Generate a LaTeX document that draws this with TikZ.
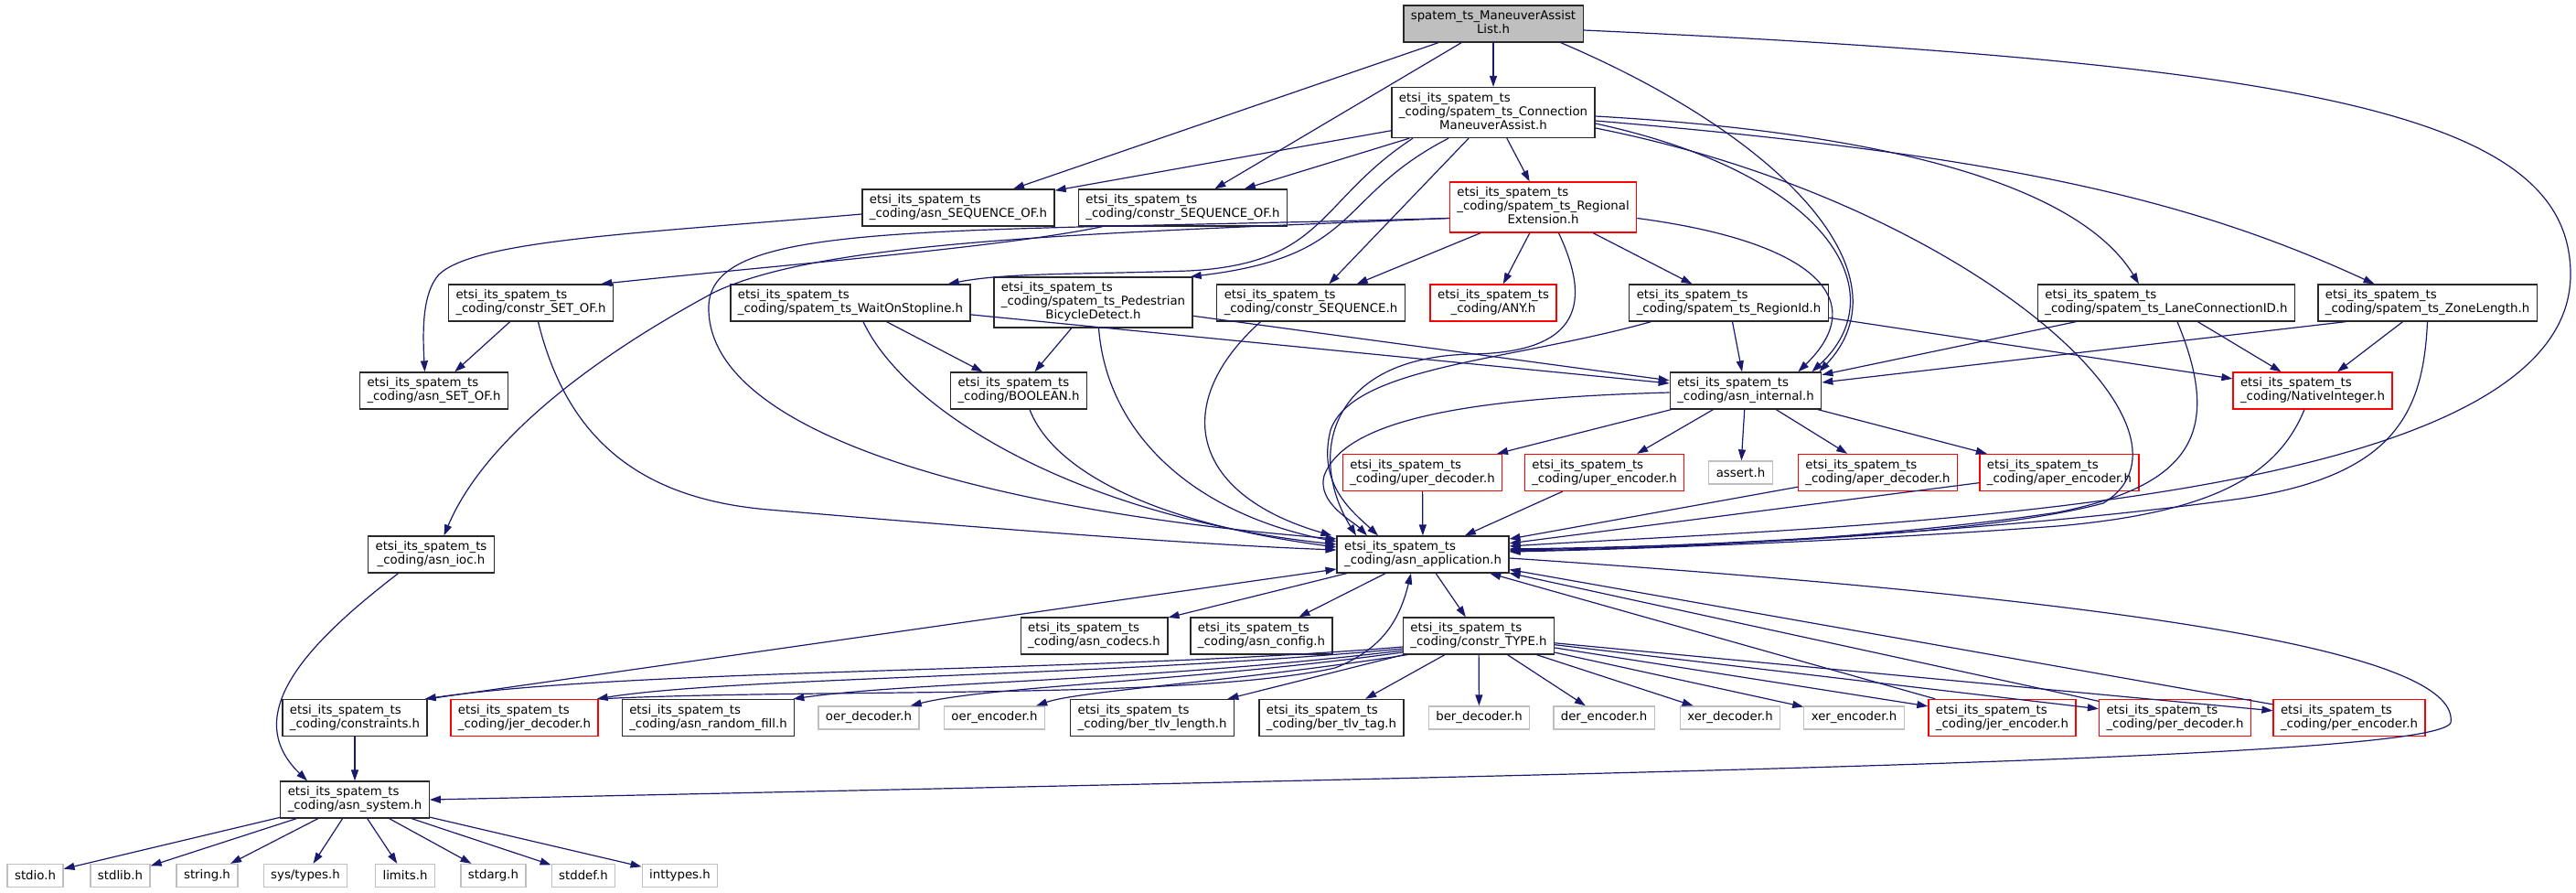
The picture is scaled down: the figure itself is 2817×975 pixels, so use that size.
\documentclass[tikz,border=0pt]{standalone}
\usepackage{fontspec}
\setmainfont{DejaVu Sans}
\usetikzlibrary{arrows.meta}
\definecolor{edgeblue}{RGB}{25,25,112}
\definecolor{nodered}{RGB}{255,0,0}
\definecolor{sysgray}{RGB}{191,191,191}
\definecolor{rootfill}{RGB}{191,191,191}
\definecolor{nodeline}{RGB}{40,40,40}
\newcommand{\flbl}[2]{\begin{tabular}{@{}l@{}}#1\\\multicolumn{1}{@{}c@{}}{#2}\end{tabular}}

\begin{document}
\begin{tikzpicture}[x=1pt,y=-1pt,
  hdr/.style={draw=nodeline,fill=white,line width=1.3pt,inner xsep=8pt,inner ysep=5pt,font=\fontsize{13.3}{15}\selectfont},
  hdrroot/.style={hdr,fill=rootfill},
  hdrred/.style={hdr,draw=nodered},
  hdrsys/.style={hdr,draw=sysgray,minimum height=25pt},
  dep/.style={draw=edgeblue,line width=1.2pt,-{Triangle[length=12pt,width=8pt]}}]
\useasboundingbox (0,0) rectangle (2817,975);

% include graph of the ManeuverAssistList header
\node[hdrroot] (main) at (1633,26) {\flbl{spatem\_ts\_ManeuverAssist}{List.h}};
\node[hdr] (conn) at (1633,123) {\flbl{etsi\_its\_spatem\_ts\\\_coding/spatem\_ts\_Connection}{ManeuverAssist.h}};

\node[hdr] (seqof) at (1048,227) {\flbl{etsi\_its\_spatem\_ts}{\_coding/asn\_SEQUENCE\_OF.h}};
\node[hdr] (cseqof) at (1293.5,227) {\flbl{etsi\_its\_spatem\_ts}{\_coding/constr\_SEQUENCE\_OF.h}};
\node[hdrred] (regext) at (1687.5,226.5) {\flbl{etsi\_its\_spatem\_ts\\\_coding/spatem\_ts\_Regional}{Extension.h}};

\node[hdr] (csetof) at (580.5,331) {\flbl{etsi\_its\_spatem\_ts}{\_coding/constr\_SET\_OF.h}};
\node[hdr] (wait) at (930,331) {\flbl{etsi\_its\_spatem\_ts}{\_coding/spatem\_ts\_WaitOnStopline.h}};
\node[hdr] (ped) at (1195.5,330.5) {\flbl{etsi\_its\_spatem\_ts\\\_coding/spatem\_ts\_Pedestrian}{BicycleDetect.h}};
\node[hdr] (cseq) at (1433.5,331) {\flbl{etsi\_its\_spatem\_ts}{\_coding/constr\_SEQUENCE.h}};
\node[hdrred] (any) at (1633,331) {\flbl{etsi\_its\_spatem\_ts}{\_coding/ANY.h}};
\node[hdr] (regid) at (1890.5,331) {\flbl{etsi\_its\_spatem\_ts}{\_coding/spatem\_ts\_RegionId.h}};
\node[hdr] (lane) at (2369,331) {\flbl{etsi\_its\_spatem\_ts}{\_coding/spatem\_ts\_LaneConnectionID.h}};
\node[hdr] (zone) at (2654.5,331) {\flbl{etsi\_its\_spatem\_ts}{\_coding/spatem\_ts\_ZoneLength.h}};

\node[hdr] (setof) at (474.5,427) {\flbl{etsi\_its\_spatem\_ts}{\_coding/asn\_SET\_OF.h}};
\node[hdr] (bool) at (1114,427) {\flbl{etsi\_its\_spatem\_ts}{\_coding/BOOLEAN.h}};
\node[hdr] (internal) at (1909,427) {\flbl{etsi\_its\_spatem\_ts}{\_coding/asn\_internal.h}};
\node[hdrred] (native) at (2529,427) {\flbl{etsi\_its\_spatem\_ts}{\_coding/NativeInteger.h}};

\node[hdrred] (uperdec) at (1555.5,516.5) {\flbl{etsi\_its\_spatem\_ts}{\_coding/uper\_decoder.h}};
\node[hdrred] (uperenc) at (1754.5,516.5) {\flbl{etsi\_its\_spatem\_ts}{\_coding/uper\_encoder.h}};
\node[hdrsys] (assert) at (1903.5,516.5) {assert.h};
\node[hdrred] (aperdec) at (2053.5,516.5) {\flbl{etsi\_its\_spatem\_ts}{\_coding/aper\_decoder.h}};
\node[hdrred] (aperenc) at (2252,516.5) {\flbl{etsi\_its\_spatem\_ts}{\_coding/aper\_encoder.h}};

\node[hdr] (ioc) at (471.5,606) {\flbl{etsi\_its\_spatem\_ts}{\_coding/asn\_ioc.h}};
\node[hdr] (app) at (1556,606) {\flbl{etsi\_its\_spatem\_ts}{\_coding/asn\_application.h}};

\node[hdr] (codecs) at (1196.5,695) {\flbl{etsi\_its\_spatem\_ts}{\_coding/asn\_codecs.h}};
\node[hdr] (config) at (1379.5,695) {\flbl{etsi\_its\_spatem\_ts}{\_coding/asn\_config.h}};
\node[hdr] (ctype) at (1617,695) {\flbl{etsi\_its\_spatem\_ts}{\_coding/constr\_TYPE.h}};

\node[hdr] (constraints) at (388,784.5) {\flbl{etsi\_its\_spatem\_ts}{\_coding/constraints.h}};
\node[hdrred] (jerdec) at (573.5,784.5) {\flbl{etsi\_its\_spatem\_ts}{\_coding/jer\_decoder.h}};
\node[hdr] (randfill) at (774.5,784.5) {\flbl{etsi\_its\_spatem\_ts}{\_coding/asn\_random\_fill.h}};
\node[hdrsys] (oerdec) at (950,784.5) {oer\_decoder.h};
\node[hdrsys] (oerenc) at (1087.5,784.5) {oer\_encoder.h};
\node[hdr] (tlvlen) at (1260,784.5) {\flbl{etsi\_its\_spatem\_ts}{\_coding/ber\_tlv\_length.h}};
\node[hdr] (tlvtag) at (1456,784.5) {\flbl{etsi\_its\_spatem\_ts}{\_coding/ber\_tlv\_tag.h}};
\node[hdrsys] (berdec) at (1617.5,784.5) {ber\_decoder.h};
\node[hdrsys] (derenc) at (1754,784.5) {der\_encoder.h};
\node[hdrsys] (xerdec) at (1892,784.5) {xer\_decoder.h};
\node[hdrsys] (xerenc) at (2027.5,784.5) {xer\_encoder.h};
\node[hdrred] (jerenc) at (2189.5,784.5) {\flbl{etsi\_its\_spatem\_ts}{\_coding/jer\_encoder.h}};
\node[hdrred] (perdec) at (2378.5,784.5) {\flbl{etsi\_its\_spatem\_ts}{\_coding/per\_decoder.h}};
\node[hdrred] (perenc) at (2569,784.5) {\flbl{etsi\_its\_spatem\_ts}{\_coding/per\_encoder.h}};

\node[hdr] (system) at (388,874) {\flbl{etsi\_its\_spatem\_ts}{\_coding/asn\_system.h}};

\node[hdrsys] (stdio) at (38.5,957) {stdio.h};
\node[hdrsys] (stdlib) at (131.5,957) {stdlib.h};
\node[hdrsys] (string) at (226.5,957) {string.h};
\node[hdrsys] (systypes) at (334,957) {sys/types.h};
\node[hdrsys] (limits) at (443,957) {limits.h};
\node[hdrsys] (stdarg) at (539.5,957) {stdarg.h};
\node[hdrsys] (stddef) at (638,957) {stddef.h};
\node[hdrsys] (inttypes) at (743.5,957) {inttypes.h};

% root header
\draw[dep] (main) -- (conn);
\draw[dep] (main) -- (seqof);
\draw[dep] (main) -- (cseqof);
\draw[dep] ([xshift=-25pt]main.south east) .. controls (1950,150) and (2090,300) .. ([xshift=-3pt]internal.north east);
\draw[dep] ([yshift=-7pt]main.east) .. controls (2550,70) and (2811,130) .. (2811,300) .. controls (2811,560) and (2000,575) .. ([yshift=9pt]app.east);

% connection maneuver assist
\draw[dep] (conn) -- (seqof);
\draw[dep] (conn) -- (cseqof);
\draw[dep] ([xshift=-88pt]conn.south) .. controls (1440,220) and (1450,288) .. (1300,296) .. controls (1180,300) and (1100,298) .. ([xshift=-25pt]wait.north east);
\draw[dep] ([xshift=-49pt]conn.south) .. controls (1460,215) and (1490,280) .. ([xshift=-3pt]ped.north east);
\draw[dep] (conn) -- (cseq);
\draw[dep] (conn) -- (regext);
\draw[dep] ([yshift=-4pt]conn.east) .. controls (2150,150) and (2290,230) .. ([xshift=-30pt]lane.north);
\draw[dep] ([yshift=-9pt]conn.east) .. controls (2200,170) and (2400,220) .. ([xshift=-58pt]zone.north);
\draw[dep] ([yshift=-12pt]conn.east) .. controls (2000,190) and (2075,320) .. ([xshift=-11pt]internal.north east);
\draw[dep] ([yshift=-17pt]conn.east) .. controls (2150,220) and (2430,470) .. (2300,550) .. controls (2150,590) and (1800,598) .. ([yshift=6pt]app.east);

% sequence of / set of
\draw[dep] ([yshift=-7pt]seqof.west) .. controls (700,255) and (520,262) .. (480,300) .. controls (462,320) and (462,360) .. ([xshift=-10pt]setof.north);
\draw[dep] ([xshift=-88pt]cseqof.south) .. controls (1100,270) and (850,290) .. ([xshift=-14pt]csetof.north east);
\draw[dep] (csetof) -- (setof);
\draw[dep] ([xshift=8pt]csetof.south) .. controls (620,480) and (700,545) .. (840,557) .. controls (1050,575) and (1300,595) .. ([yshift=5pt]app.west);

% regional extension
\draw[dep] ([yshift=-12pt]regext.west) .. controls (1200,255) and (900,262) .. (780,320) .. controls (650,390) and (530,480) .. ([xshift=14pt]ioc.north);
\draw[dep] ([yshift=-12pt]regext.west) .. controls (1000,255) and (770,240) .. (775,340) .. controls (780,480) and (1100,560) .. ([yshift=17pt]app.west);
\draw[dep] ([xshift=17pt]regext.south) .. controls (1740,330) and (1730,385) .. (1610,387) .. controls (1450,390) and (1430,500) .. ([xshift=-73pt]app.north);
\draw[dep] (regext) -- (cseq);
\draw[dep] (regext) -- (any);
\draw[dep] (regext) -- (regid);
\draw[dep] ([yshift=-12pt]regext.east) .. controls (1990,265) and (2045,330) .. ([xshift=-26pt]internal.north east);

% third row
\draw[dep] (wait) -- (bool);
\draw[dep] (wait) -- (internal);
\draw[dep] ([xshift=14pt]wait.south) .. controls (990,450) and (1180,565) .. ([yshift=11pt]app.west);
\draw[dep] (ped) -- (bool);
\draw[dep] (ped) -- (internal);
\draw[dep] ([xshift=6pt]ped.south) .. controls (1210,470) and (1300,560) .. ([yshift=14pt]app.west);
\draw[dep] ([xshift=-55pt]cseq.south) .. controls (1280,440) and (1300,540) .. ([xshift=-5pt]app.north west);
\draw[dep] (regid) -- (internal);
\draw[dep] (regid) -- (native);
\draw[dep] ([xshift=-85pt]regid.south) .. controls (1650,395) and (1480,400) .. (1455,470) .. controls (1440,530) and (1480,560) .. ([xshift=-49pt]app.north);
\draw[dep] (lane) -- (internal);
\draw[dep] (lane) -- (native);
\draw[dep] ([xshift=12pt]lane.south) .. controls (2430,470) and (2400,530) .. (2250,560) .. controls (2050,590) and (1800,600) .. ([yshift=4pt]app.east);
\draw[dep] ([xshift=31pt]zone.south west) -- ([yshift=9pt]internal.east);
\draw[dep] (zone) -- (native);
\draw[dep] (zone.south) .. controls (2650,450) and (2620,520) .. (2450,545) .. controls (2200,580) and (1850,598) .. ([yshift=5pt]app.east);

% fourth row
\draw[dep] ([xshift=12pt]bool.south) .. controls (1150,510) and (1250,570) .. ([yshift=8pt]app.west);
\draw[dep] (internal) -- (uperdec);
\draw[dep] (internal) -- (uperenc);
\draw[dep] (internal) -- (assert);
\draw[dep] (internal) -- (aperdec);
\draw[dep] (internal) -- (aperenc);
\draw[dep] ([yshift=-2pt]internal.west) .. controls (1600,435) and (1470,460) .. (1448,520) .. controls (1440,550) and (1480,570) .. ([xshift=-61pt]app.north);
\draw[dep] ([xshift=-9pt]native.south) .. controls (2490,520) and (2420,560) .. (2250,575) .. controls (2050,590) and (1800,600) .. ([yshift=3pt]app.east);

% codecs into the application header
\draw[dep] (uperdec) -- (app);
\draw[dep] (uperenc) -- (app);
\draw[dep] (aperdec) -- (app);
\draw[dep] (aperenc) -- (app);

% application header
\draw[dep] (app) -- (codecs);
\draw[dep] (app) -- (config);
\draw[dep] (app) -- (ctype);
\draw[dep] ([yshift=-4pt]app.east) .. controls (2400,660) and (2690,720) .. (2680,790) .. controls (2660,830) and (1800,845) .. (system.east);
\draw[dep] ([xshift=-36pt]ioc.south) .. controls (340,700) and (260,780) .. ([xshift=-52pt]system.north);

% type descriptor
\draw[dep] ([yshift=-12pt]ctype.west) .. controls (1200,735) and (700,730) .. ([xshift=-3pt]constraints.north east);
\draw[dep] ([yshift=-14pt]ctype.west) .. controls (1200,740) and (800,740) .. ([xshift=-2pt]jerdec.north east);
\draw[dep] ([yshift=-16pt]ctype.west) .. controls (1250,745) and (1000,745) .. ([xshift=-2pt]randfill.north east);
\draw[dep] ([yshift=-18pt]ctype.west) .. controls (1300,745) and (1080,750) .. ([xshift=-10pt]oerdec.north east);
\draw[dep] ([xshift=5pt]ctype.south west) .. controls (1350,745) and (1180,755) .. ([xshift=-10pt]oerenc.north east);
\draw[dep] (ctype) -- (tlvlen);
\draw[dep] (ctype) -- (tlvtag);
\draw[dep] (ctype) -- (berdec);
\draw[dep] (ctype) -- (derenc);
\draw[dep] (ctype) -- (xerdec);
\draw[dep] (ctype) -- (xerenc);
\draw[dep] (ctype) -- (jerenc);
\draw[dep] (ctype) -- (perdec);
\draw[dep] (ctype) -- (perenc);

% back to the application header
\draw[dep] (constraints.north east) -- ([yshift=-16pt]app.west);
\draw[dep] (jerdec.north east) .. controls (900,752) and (1300,765) .. (1460,730) .. controls (1510,710) and (1530,680) .. ([xshift=-13pt]app.south);
\draw[dep] (jerenc) -- (app);
\draw[dep] (perdec) -- (app);
\draw[dep] (perenc) -- (app);

% system header
\draw[dep] (constraints) -- (system);
\draw[dep] (system) -- (stdio);
\draw[dep] (system) -- (stdlib);
\draw[dep] (system) -- (string);
\draw[dep] (system) -- (systypes);
\draw[dep] (system) -- (limits);
\draw[dep] (system) -- (stdarg);
\draw[dep] (system) -- (stddef);
\draw[dep] (system) -- (inttypes);
\end{tikzpicture}
\end{document}
